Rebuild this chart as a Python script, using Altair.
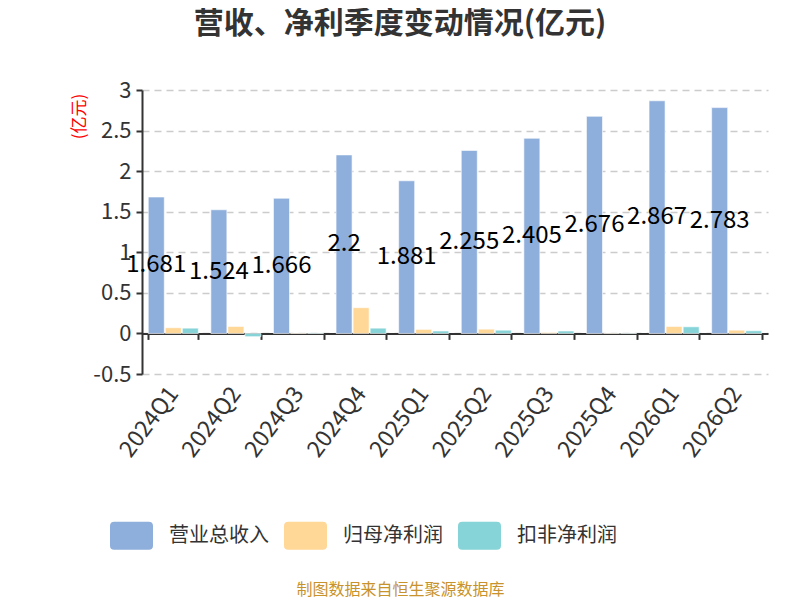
import altair as alt
import pandas as pd

quarters = ["2024Q1", "2024Q2", "2024Q3", "2024Q4", "2025Q1",
            "2025Q2", "2025Q3", "2025Q4", "2026Q1", "2026Q2"]
series_names = ["营业总收入", "归母净利润", "扣非净利润"]
revenue = [1.681, 1.524, 1.666, 2.2, 1.881, 2.255, 2.405, 2.676, 2.867, 2.783]
net_profit = [0.07, 0.086, 0.005, 0.317, 0.05, 0.053, 0.012, 0.004, 0.086, 0.04]
deducted_profit = [0.065, -0.04, 0.006, 0.065, 0.03, 0.04, 0.03, 0.004, 0.082, 0.033]
colors = ["#8eaedb", "#ffd797", "#86d4d8"]
y_ticks = [-0.5, 0, 0.5, 1, 1.5, 2, 2.5, 3]

rows = []
for name, vals in zip(series_names, [revenue, net_profit, deducted_profit]):
    for q, v in zip(quarters, vals):
        rows.append({"季度": q, "系列": name, "值": v, "标签": str(v)})
df = pd.DataFrame(rows)

FONT = "Noto Sans CJK SC"
rrect = ("M-0.8,-0.65 L0.8,-0.65 Q1,-0.65 1,-0.45 L1,0.45 Q1,0.65 0.8,0.65 "
         "L-0.8,0.65 Q-1,0.65 -1,0.45 L-1,-0.45 Q-1,-0.65 -0.8,-0.65 Z")

x_enc = alt.X("季度:N", sort=quarters,
              scale=alt.Scale(paddingInner=0.2, paddingOuter=0.1),
              axis=alt.Axis(
                  title="制图数据来自恒生聚源数据库",
                  titleColor="#c8922c", titleFontSize=16, titleFontWeight="normal",
                  titleFont=FONT, titleX=258, titleY=261, titleAlign="center",
                  titleBaseline="alphabetic",
                  offset=-40.6, domainColor="#333333", domainWidth=2,
                  tickBand="extent", tickColor="#333333", tickWidth=2, tickSize=6,
                  labelAngle=-53, labelAlign="right", labelBaseline="middle",
                  labelPadding=50, labelFontSize=23, labelColor="#333333",
                  labelFont=FONT, grid=False))

y_enc = alt.Y("值:Q",
              scale=alt.Scale(domain=[-0.5, 3], nice=False, zero=False),
              axis=alt.Axis(
                  values=y_ticks, labelExpr="'' + datum.value",
                  title="(亿元)", titleColor="#ff0000", titleFontSize=17,
                  titleFontWeight="normal", titleFont=FONT,
                  titleX=-63, titleY=26, titleAngle=-90, titleAlign="center",
                  titleBaseline="middle",
                  labelFontSize=22, labelColor="#333333", labelFont=FONT,
                  labelPadding=5,
                  domainColor="#333333", domainWidth=2,
                  tickColor="#333333", tickWidth=2, tickSize=6,
                  grid=True, gridColor="#cccccc", gridDash=[7, 5], gridWidth=1.5))

xoff = alt.XOffset("系列:N", sort=series_names,
                   scale=alt.Scale(paddingInner=0.06))

bars = alt.Chart(df).mark_bar(stroke="#ffffff", strokeWidth=1, strokeOpacity=0.6).encode(
    x=x_enc,
    xOffset=xoff,
    y=y_enc,
    color=alt.Color("系列:N", sort=series_names,
                    scale=alt.Scale(domain=series_names, range=colors),
                    legend=alt.Legend(
                        title=None, orient="none", direction="horizontal",
                        legendX=-32, legendY=424,
                        symbolType=rrect, symbolSize=1849, symbolStrokeWidth=0,
                        symbolOpacity=1,
                        labelFontSize=20, labelColor="#333333", labelFont=FONT,
                        labelOffset=16, columnPadding=15)),
)

labels = alt.Chart(df).transform_filter(
    alt.datum["系列"] == "营业总收入"
).transform_calculate(
    mid="datum['值'] / 2"
).mark_text(fontSize=24, color="#000000", font=FONT, baseline="middle").encode(
    x=alt.X("季度:N", sort=quarters),
    xOffset=alt.XOffset("系列:N", sort=series_names),
    y=alt.Y("mid:Q"),
    text="标签:N",
)

chart = alt.layer(bars, labels).properties(
    width=626, height=284,
    title=alt.TitleParams("营收、净利季度变动情况(亿元)", fontSize=30, fontWeight="bold",
                          color="#333333", font=FONT, anchor="middle", dx=-55,
                          offset=40),
    autosize=alt.AutoSizeParams(type="none"),
    padding={"left": 134, "top": 82, "right": 24, "bottom": 226},
).configure_view(stroke=None)

chart.save("out.html", embed_options={"renderer": "svg", "actions": False})
